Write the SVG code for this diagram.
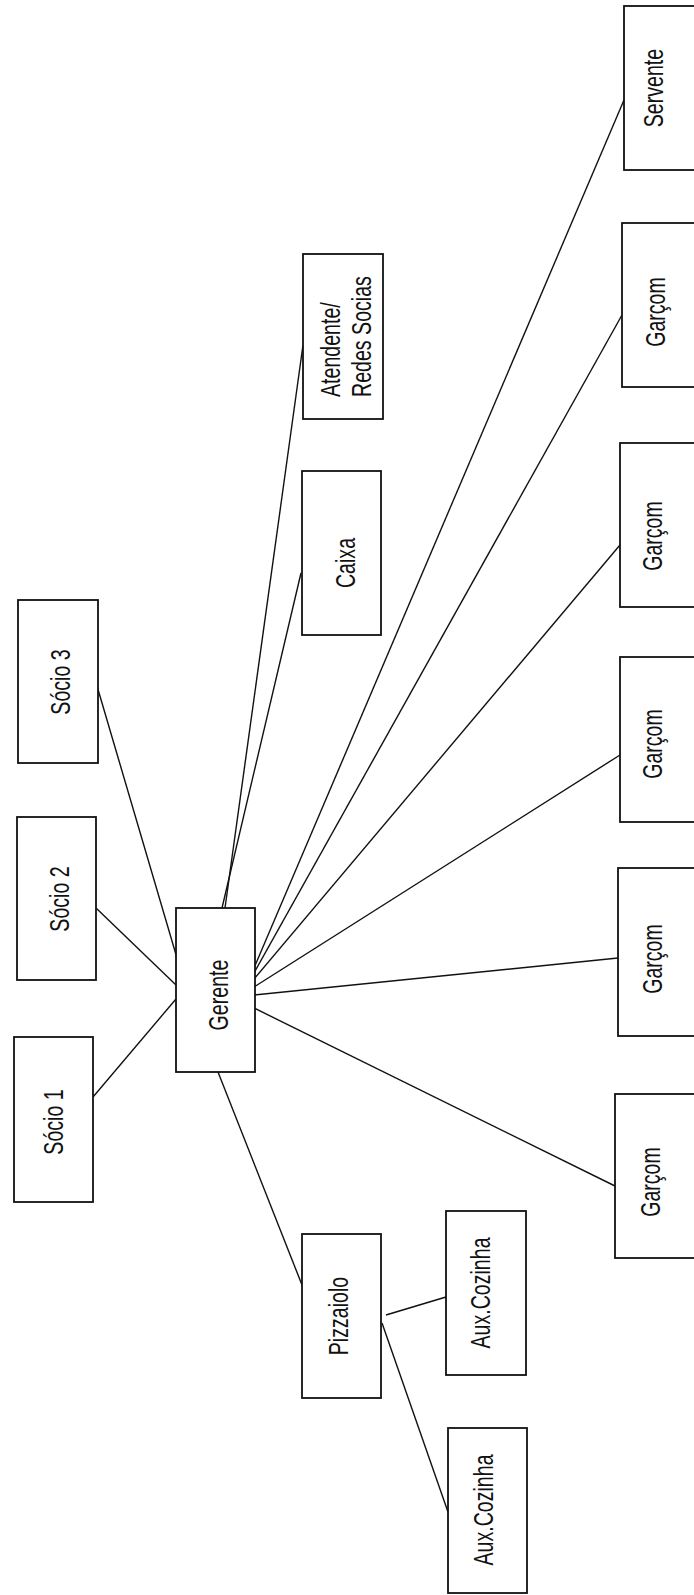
<svg xmlns="http://www.w3.org/2000/svg" width="694" height="1595" viewBox="0 0 694 1595">
<style>
.box{fill:#fff;stroke:#111;stroke-width:1.8}
.lbl{font-family:"Liberation Sans",Arial,sans-serif;font-size:28px;fill:#111;text-anchor:middle}
.lbls{font-family:"Liberation Sans",Arial,sans-serif;font-size:28px;fill:#111;text-anchor:start}
.conn line{stroke:#111;stroke-width:1.4;fill:none}
</style>
<rect width="694" height="1595" fill="#fff"/>
<g id="connectors" class="conn">
<line x1="97" y1="686" x2="177" y2="958"/>
<line x1="96" y1="908" x2="176" y2="985"/>
<line x1="93" y1="1097" x2="176" y2="999"/>
<line x1="222" y1="908" x2="301" y2="573"/>
<line x1="225" y1="908" x2="303" y2="345"/>
<line x1="218" y1="1072" x2="302" y2="1285"/>
<line x1="254" y1="968" x2="624" y2="100"/>
<line x1="254" y1="973" x2="622" y2="315"/>
<line x1="254" y1="979" x2="620" y2="545"/>
<line x1="254" y1="987" x2="620" y2="755"/>
<line x1="254" y1="995" x2="618" y2="958"/>
<line x1="254" y1="1008" x2="615" y2="1186"/>
<line x1="386" y1="1315" x2="446" y2="1297"/>
<line x1="382" y1="1323" x2="448" y2="1512"/>
</g>
<g id="socio3"><rect class="box" x="18" y="600" width="80" height="163"/><text class="lbl" transform="translate(70,682) rotate(-90) scale(0.7,1)">Sócio 3</text></g>
<g id="socio2"><rect class="box" x="17" y="817" width="79" height="163"/><text class="lbl" transform="translate(69,899) rotate(-90) scale(0.7,1)">Sócio 2</text></g>
<g id="socio1"><rect class="box" x="14" y="1037" width="79" height="165"/><text class="lbl" transform="translate(63,1122) rotate(-90) scale(0.7,1)">Sócio 1</text></g>
<g id="gerente"><rect class="box" x="176" y="908" width="79" height="164"/><text class="lbl" transform="translate(228,995) rotate(-90) scale(0.7,1)">Gerente</text></g>
<g id="atendente"><rect class="box" x="303" y="254" width="80" height="165"/><text class="lbls" transform="translate(340,397) rotate(-90) scale(0.7,1)">Atendente/</text><text class="lbls" transform="translate(371,397) rotate(-90) scale(0.7,1)">Redes Socias</text></g>
<g id="caixa"><rect class="box" x="302" y="471" width="79" height="164"/><text class="lbl" transform="translate(355,563) rotate(-90) scale(0.7,1)">Caixa</text></g>
<g id="pizzaiolo"><rect class="box" x="302" y="1234" width="79" height="164"/><text class="lbl" transform="translate(348,1316) rotate(-90) scale(0.7,1)">Pizzaiolo</text></g>
<g id="aux1"><rect class="box" x="446" y="1211" width="80" height="164"/><text class="lbl" transform="translate(490,1293) rotate(-90) scale(0.7,1)">Aux.Cozinha</text></g>
<g id="aux2"><rect class="box" x="448" y="1428" width="79" height="165"/><text class="lbl" transform="translate(493,1510) rotate(-90) scale(0.7,1)">Aux.Cozinha</text></g>
<g id="servente"><rect class="box" x="624" y="6" width="80" height="164"/><text class="lbl" transform="translate(663,88) rotate(-90) scale(0.7,1)">Servente</text></g>
<g id="garcom1"><rect class="box" x="622" y="223" width="80" height="164"/><text class="lbl" transform="translate(665,312) rotate(-90) scale(0.7,1)">Garçom</text></g>
<g id="garcom2"><rect class="box" x="620" y="443" width="80" height="164"/><text class="lbl" transform="translate(662,536) rotate(-90) scale(0.7,1)">Garçom</text></g>
<g id="garcom3"><rect class="box" x="620" y="657" width="80" height="165"/><text class="lbl" transform="translate(662,744) rotate(-90) scale(0.7,1)">Garçom</text></g>
<g id="garcom4"><rect class="box" x="618" y="868" width="80" height="168"/><text class="lbl" transform="translate(662,959) rotate(-90) scale(0.7,1)">Garçom</text></g>
<g id="garcom5"><rect class="box" x="615" y="1094" width="80" height="164"/><text class="lbl" transform="translate(660,1182) rotate(-90) scale(0.7,1)">Garçom</text></g>
</svg>
